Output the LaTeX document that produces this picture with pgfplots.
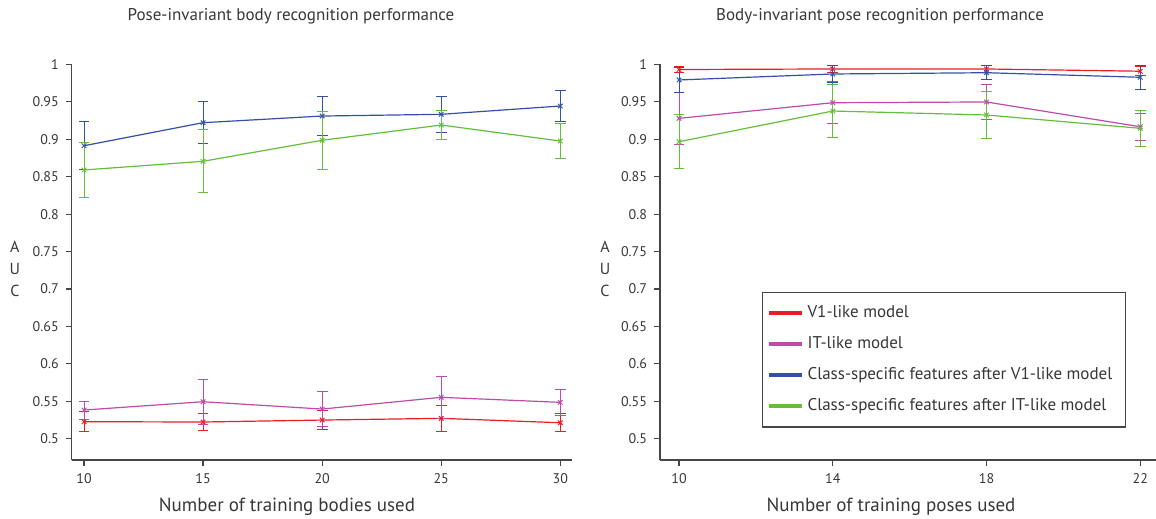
\documentclass[border=0pt]{standalone}
\usepackage{fontspec}
\setmainfont{PT Sans}
\usepackage{pgfplots}
\pgfplotsset{compat=1.18}

\definecolor{cV}{RGB}{237,28,36}
\definecolor{cIT}{RGB}{190,75,170}
\definecolor{cCV}{RGB}{50,80,165}
\definecolor{cCIT}{RGB}{100,190,60}
\definecolor{axisgray}{RGB}{70,70,70}
\definecolor{labgray}{RGB}{55,55,55}

% left panel: x = training bodies, y = AUC, e = error
\pgfplotstableread{
x  y      e
10 0.5225 0.013
15 0.5221 0.011
20 0.5247 0.013
25 0.5270 0.017
30 0.5211 0.012
}\leftV
\pgfplotstableread{
x  y      e
10 0.5381 0.012
15 0.5492 0.030
20 0.5394 0.023
25 0.5551 0.028
30 0.5484 0.017
}\leftIT
\pgfplotstableread{
x  y      e
10 0.8914 0.032
15 0.9222 0.028
20 0.9311 0.026
25 0.9334 0.024
30 0.9445 0.021
}\leftCV
\pgfplotstableread{
x  y      e
10 0.8590 0.037
15 0.8706 0.042
20 0.8987 0.039
25 0.9191 0.020
30 0.8977 0.023
}\leftCIT

% right panel: x = training poses
\pgfplotstableread{
x  y      e
10 0.9933 0.004
14 0.9940 0.005
18 0.9940 0.005
22 0.9910 0.006
}\rightV
\pgfplotstableread{
x  y      e
10 0.9280 0.035
14 0.9489 0.028
18 0.9499 0.024
22 0.9168 0.018
}\rightIT
\pgfplotstableread{
x  y      e
10 0.9793 0.017
14 0.9873 0.012
18 0.9890 0.009
22 0.9829 0.016
}\rightCV
\pgfplotstableread{
x  y      e
10 0.8968 0.036
14 0.9378 0.036
18 0.9325 0.032
22 0.9147 0.024
}\rightCIT

\pgfplotsset{
  aucaxis/.style={
    scale only axis,
    height=197.75pt,
    ymin=0.4713, ymax=1,
    ytick={0.5,0.55,0.6,0.65,0.7,0.75,0.8,0.85,0.9,0.95,1},
    axis lines*=left,
    axis line style={draw=axisgray, line width=0.6pt},
    tick align=outside,
    major tick length=3pt,
    tick style={draw=axisgray, line width=0.6pt},
    tick label style={font=\fontsize{7}{8}\selectfont, text=labgray},
    /pgf/number format/assume math mode=true,
    /pgf/number format/fixed,
    /pgf/number format/precision=2,
    clip=false,
    title style={at={(axis description cs:0.5,1)}, anchor=center, yshift=18.25pt,
      font=\fontsize{8.5}{10}\selectfont, text=labgray},
    xlabel style={at={(axis description cs:0.5,0)}, anchor=center, yshift=-23.5pt,
      font=\fontsize{9.5}{11}\selectfont, text=labgray},
    ylabel={A\\U\\C},
    ylabel style={at={(axis description cs:0,0.484)}, anchor=center, rotate=-90,
      align=center, font=\fontsize{8}{11}\selectfont, text=labgray},
  },
  ser/.style={color=#1, line width=0.6pt, mark=x, mark size=1.6pt,
    mark options={line width=0.5pt},
    error bars/.cd, y dir=both, y explicit,
    error bar style={line width=0.5pt, #1},
    error mark options={rotate=90, mark size=2.7pt, line width=0.5pt, #1}},
}

\begin{document}
\begin{tikzpicture}
\path[use as bounding box] (0pt,0pt) rectangle (578pt,-259.5pt);

\begin{axis}[aucaxis,
  at={(35.85pt,-230pt)}, anchor=south west,
  width=250.3pt,
  xmin=9.483, xmax=30.504,
  xtick={10,15,20,25,30},
  title={Pose-invariant body recognition performance},
  title style={xshift=-15.5pt},
  xlabel={Number of training bodies used},
  xlabel style={xshift=-17.5pt},
  ylabel style={xshift=-28.4pt},
]
\addplot[ser=cV]   table[x=x, y=y, y error=e] {\leftV};
\addplot[ser=cIT]  table[x=x, y=y, y error=e] {\leftIT};
\addplot[ser=cCV]  table[x=x, y=y, y error=e] {\leftCV};
\addplot[ser=cCIT] table[x=x, y=y, y error=e] {\leftCIT};
\end{axis}

\begin{axis}[aucaxis,
  at={(330pt,-230pt)}, anchor=south west,
  width=248pt,
  xmin=9.505, xmax=22.41,
  xtick={10,14,18,22},
  title={Body-invariant pose recognition performance},
  title style={xshift=-14pt},
  xlabel={Number of training poses used},
  xlabel style={xshift=-8.5pt},
  ylabel style={xshift=-27.5pt},
  legend cell align=left,
  legend image code/.code={\draw[line width=2pt] (0pt,0pt) -- (16.5pt,0pt);},
  legend style={at={(0.2056,0.4248)}, anchor=north west,
    draw=axisgray, line width=0.6pt, inner xsep=2pt, inner ysep=4.5pt,
    row sep=4pt, font=\fontsize{8.5}{10}\selectfont, text=labgray},
]
\addplot[ser=cV]   table[x=x, y=y, y error=e] {\rightV};
\addlegendentry{V1-like model}
\addplot[ser=cIT]  table[x=x, y=y, y error=e] {\rightIT};
\addlegendentry{IT-like model}
\addplot[ser=cCV]  table[x=x, y=y, y error=e] {\rightCV};
\addlegendentry{Class-specific features after V1-like model\hspace*{2.5pt}}
\addplot[ser=cCIT] table[x=x, y=y, y error=e] {\rightCIT};
\addlegendentry{Class-specific features after IT-like model}
\end{axis}
\end{tikzpicture}
\end{document}
